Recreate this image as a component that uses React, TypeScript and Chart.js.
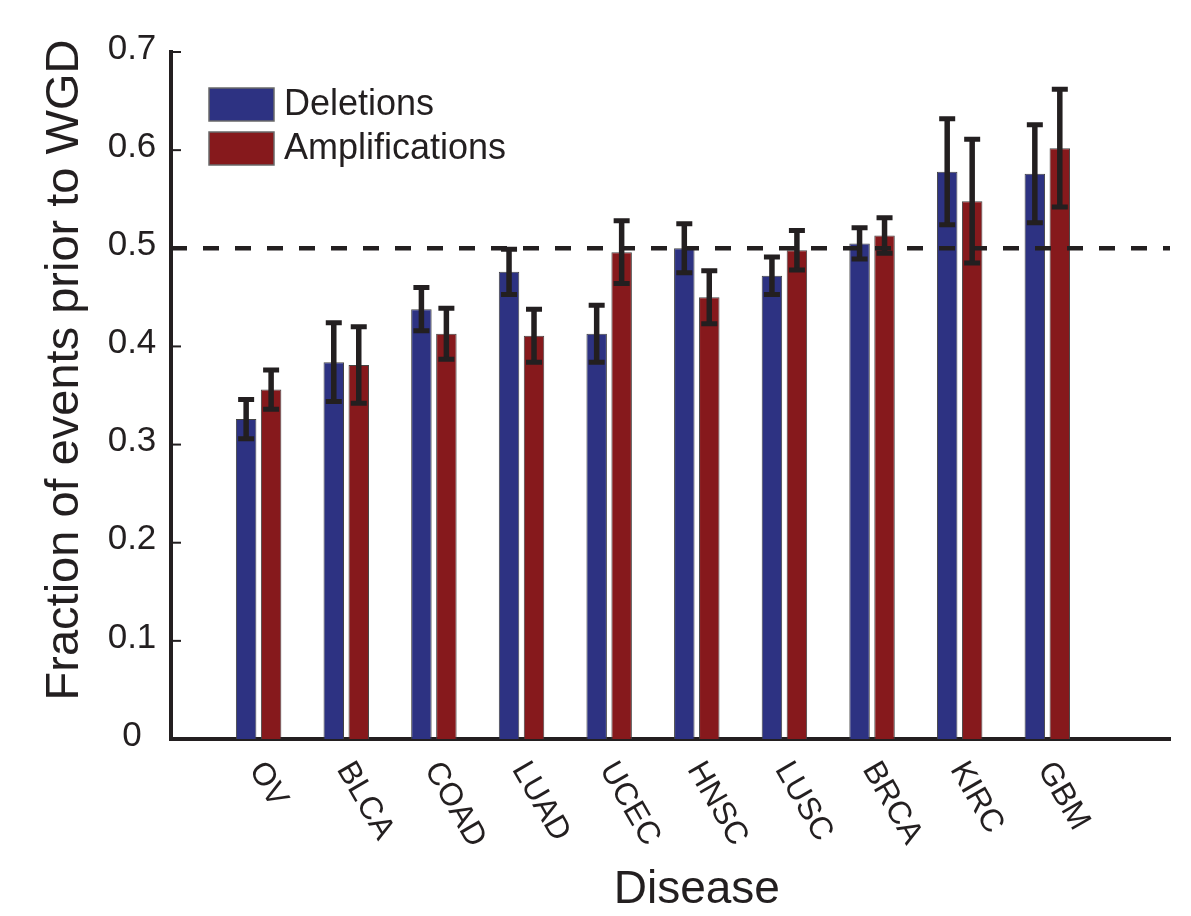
import React, { useEffect, useRef } from "react";
import { Chart, registerables } from "chart.js";

Chart.register(...registerables);

const diseases = ["OV", "BLCA", "COAD", "LUAD", "UCEC", "HNSC", "LUSC", "BRCA", "KIRC", "GBM"];
const deletions = [0.326, 0.384, 0.438, 0.476, 0.413, 0.5, 0.472, 0.505, 0.578, 0.576];
const deletionErr = [0.02, 0.04, 0.022, 0.023, 0.029, 0.025, 0.019, 0.016, 0.054, 0.05];
const amplifications = [0.356, 0.381, 0.413, 0.411, 0.496, 0.45, 0.498, 0.513, 0.548, 0.602];
const amplificationErr = [0.02, 0.039, 0.026, 0.027, 0.032, 0.027, 0.02, 0.018, 0.063, 0.06];
const yTickValues = [0, 0.1, 0.2, 0.3, 0.4, 0.5, 0.6, 0.7];
const yTickLabels = ["0", "0.1", "0.2", "0.3", "0.4", "0.5", "0.6", "0.7"];
const referenceLine = 0.5;
const seriesLabels = ["Deletions", "Amplifications"];
const yTitle = "Fraction of events prior to WGD";
const xTitle = "Disease";

const BLUE = "#2d3282";
const RED = "#86191c";
const INK = "#231f20";
const FONT = '"Liberation Sans", Arial, Helvetica, sans-serif';

const errorsBySeries = [deletionErr, amplificationErr];

const overlayPlugin = {
  id: "overlay",
  afterDatasetsDraw(chart: any) {
    const { ctx, chartArea, scales } = chart;
    const y = scales.y;
    ctx.save();
    // dashed reference line
    ctx.strokeStyle = INK;
    ctx.lineWidth = 4.5;
    ctx.setLineDash([16, 16]);
    const yr = y.getPixelForValue(referenceLine);
    ctx.beginPath();
    ctx.moveTo(chartArea.left, yr);
    ctx.lineTo(chartArea.right, yr);
    ctx.stroke();
    ctx.setLineDash([]);
    // error bars
    chart.data.datasets.forEach((ds: any, di: number) => {
      const meta = chart.getDatasetMeta(di);
      const errs = errorsBySeries[di];
      meta.data.forEach((bar: any, j: number) => {
        const v = ds.data[j].y;
        const e = errs[j];
        const x = bar.x;
        const yt = y.getPixelForValue(v + e);
        const yb = y.getPixelForValue(v - e);
        ctx.strokeStyle = INK;
        ctx.lineWidth = 5.5;
        ctx.beginPath();
        ctx.moveTo(x, yt);
        ctx.lineTo(x, yb);
        ctx.stroke();
        ctx.lineWidth = 5;
        ctx.beginPath();
        ctx.moveTo(x - 8, yt);
        ctx.lineTo(x + 8, yt);
        ctx.moveTo(x - 8, yb);
        ctx.lineTo(x + 8, yb);
        ctx.stroke();
      });
    });
    ctx.restore();
  },
  afterDraw(chart: any) {
    const { ctx, chartArea, scales } = chart;
    const x = scales.x;
    const y = scales.y;
    ctx.save();
    ctx.fillStyle = INK;
    ctx.strokeStyle = INK;
    // inner y ticks
    ctx.lineWidth = 2;
    yTickValues.forEach((v) => {
      const py = y.getPixelForValue(v);
      ctx.beginPath();
      ctx.moveTo(chartArea.left, py);
      ctx.lineTo(chartArea.left + 10, py);
      ctx.stroke();
    });
    // y tick labels
    ctx.font = `35px ${FONT}`;
    ctx.textAlign = "center";
    ctx.textBaseline = "middle";
    yTickValues.forEach((v, i) => {
      const py = y.getPixelForValue(v);
      ctx.fillText(yTickLabels[i], chartArea.left - 39, py - 3);
    });
    // rotated category labels
    ctx.font = `32px ${FONT}`;
    ctx.textAlign = "left";
    ctx.textBaseline = "alphabetic";
    const ang = (60 * Math.PI) / 180;
    diseases.forEach((d, i) => {
      const px = x.getPixelForValue(i + 1);
      ctx.save();
      ctx.translate(px - 10, chartArea.bottom + 30);
      ctx.rotate(ang);
      ctx.fillText(d, 0, 0);
      ctx.restore();
    });
    // axis titles
    ctx.font = `47px ${FONT}`;
    ctx.textAlign = "center";
    ctx.textBaseline = "alphabetic";
    ctx.save();
    ctx.translate(70, 362);
    ctx.rotate(-Math.PI / 2);
    ctx.fillText(yTitle, 0, 0);
    ctx.restore();
    ctx.font = `46px ${FONT}`;
    ctx.fillText(xTitle, x.getPixelForValue(6), 895);
    // legend
    const colors = [BLUE, RED];
    ctx.font = `36px ${FONT}`;
    ctx.textAlign = "left";
    seriesLabels.forEach((lab, i) => {
      const bx = chartArea.left + 38;
      const by = chartArea.top + 36 + i * 44;
      ctx.fillStyle = colors[i];
      ctx.fillRect(bx, by, 65, 33);
      ctx.strokeStyle = "#6a6a6a";
      ctx.lineWidth = 1.5;
      ctx.strokeRect(bx, by, 65, 33);
      ctx.fillStyle = INK;
      ctx.fillText(lab, bx + 75, by + 27);
    });
    ctx.restore();
  },
};

export default function App() {
  const ref = useRef<HTMLCanvasElement | null>(null);
  useEffect(() => {
    if (!ref.current) return;
    const chart = new Chart(ref.current, {
      type: "bar",
      data: {
        datasets: [
          {
            label: seriesLabels[0],
            data: deletions.map((v, i) => ({ x: i + 1, y: v })),
            backgroundColor: BLUE,
            borderColor: "#444444",
            borderWidth: 1,
            categoryPercentage: 0.57,
            barPercentage: 0.82,
          },
          {
            label: seriesLabels[1],
            data: amplifications.map((v, i) => ({ x: i + 1, y: v })),
            backgroundColor: RED,
            borderColor: "#444444",
            borderWidth: 1,
            categoryPercentage: 0.57,
            barPercentage: 0.82,
          },
        ],
      } as any,
      options: {
        animation: false,
        responsive: true,
        maintainAspectRatio: false,
        layout: { padding: { top: 44, right: 13, left: 0, bottom: 0 } },
        plugins: { legend: { display: false }, tooltip: { enabled: false } },
        scales: {
          x: {
            type: "linear",
            min: 0,
            max: 11.4,
            offset: false,
            grid: { display: false },
            ticks: { display: false, maxTicksLimit: 2 },
            border: { display: true, width: 4, color: INK },
            afterFit: (s: any) => {
              s.height = 169;
            },
          },
          y: {
            type: "linear",
            min: 0,
            max: 0.7,
            grid: { display: false },
            ticks: { display: false, stepSize: 0.1 },
            border: { display: true, width: 4, color: INK },
            afterFit: (s: any) => {
              s.width = 163;
            },
          },
        },
      } as any,
      plugins: [overlayPlugin],
    });
    return () => chart.destroy();
  }, []);
  return (
    <div style={{ position: "relative", width: 1175, height: 900 }}>
      <canvas ref={ref} />
    </div>
  );
}
